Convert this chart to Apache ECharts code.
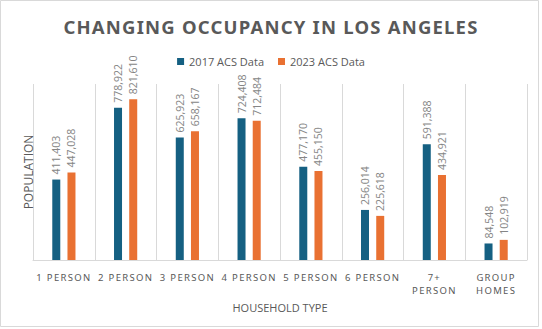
<!DOCTYPE html>
<html><head><meta charset="utf-8">
<script src="https://cdn.jsdelivr.net/npm/echarts@6/dist/echarts.min.js"></script>
<style>
html,body{margin:0;padding:0;background:#fff}
#c{width:542px;height:329px}
#c text[style*="Noto Sans"]{letter-spacing:1.3px}
#c text[style*="bold"][style*="Noto Sans"]{letter-spacing:1.2px}
#c text[font-family*="Noto Sans"]{letter-spacing:1.3px}
</style>
</head><body><div id="c"></div>
<script>
const categories = ["1 PERSON", "2 PERSON", "3 PERSON", "4 PERSON", "5 PERSON", "6 PERSON", "7+\nPERSON", "GROUP\nHOMES"];
const data2017 = [411403, 778922, 625923, 724408, 477170, 256014, 591388, 84548];
const data2023 = [447028, 821610, 658167, 712484, 455150, 225618, 434921, 102919];
const seriesNames = ["2017 ACS Data", "2023 ACS Data"];

const chart = echarts.init(document.getElementById('c'), null, {renderer: 'svg'});
const fmt = p => p.value.toLocaleString('en-US');
const lbl = {show: true, position: 'top', rotate: 90, align: 'left', verticalAlign: 'middle', distance: 5,
  color: '#858585', fontSize: 10.5, fontFamily: 'Open Sans', formatter: fmt};
chart.setOption({
  animation: false,
  title: {text: 'CHANGING OCCUPANCY IN LOS ANGELES', left: 'center', top: 12,
    textStyle: {fontFamily: 'Noto Sans', fontWeight: 'bold', fontSize: 18.5, color: '#595959'}},
  legend: {top: 51, left: 'center', itemWidth: 7, itemHeight: 7, itemGap: 14,
    icon: 'rect', textStyle: {color: '#595959', fontSize: 11, fontFamily: 'Open Sans'}, data: seriesNames},
  grid: {left: 33, right: 15, top: 84, bottom: 69},
  xAxis: {type: 'category', data: categories, name: 'HOUSEHOLD TYPE', nameLocation: 'middle', nameGap: 41,
    nameTextStyle: {color: '#595959', fontSize: 11, fontFamily: 'Open Sans'},
    axisLine: {lineStyle: {color: '#d9d9d9'}}, axisTick: {show: false},
    splitLine: {show: true, lineStyle: {color: '#d9d9d9'}},
    axisLabel: {interval: 0, margin: 11, color: '#595959', fontSize: 9.5, fontFamily: 'Noto Sans', lineHeight: 13}},
  yAxis: {type: 'value', min: 0, max: 900000, name: 'POPULATION', nameLocation: 'middle', nameGap: -1,
    nameTextStyle: {color: '#595959', fontSize: 12, fontFamily: 'Open Sans'},
    axisLabel: {show: false}, axisLine: {show: false}, axisTick: {show: false}, splitLine: {show: false}},
  series: [
    {name: seriesNames[0], type: 'bar', data: data2017, barWidth: 8, barGap: '90%', itemStyle: {color: '#156082'}, label: lbl},
    {name: seriesNames[1], type: 'bar', data: data2023, barWidth: 8, itemStyle: {color: '#E97132'}, label: lbl}
  ],
  graphic: [{type: 'rect', shape: {x: 0.5, y: 0.5, width: 538, height: 326}, style: {fill: null, stroke: '#d9d9d9', lineWidth: 1}, silent: true}]
});
</script></body></html>
